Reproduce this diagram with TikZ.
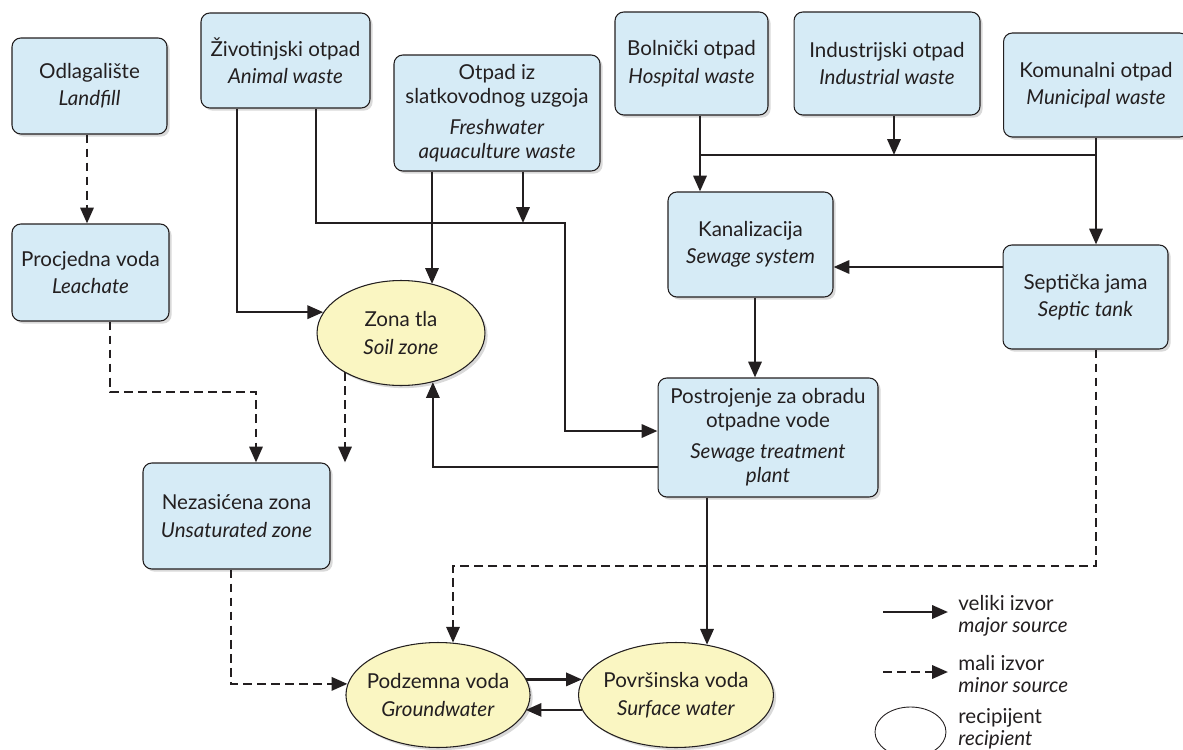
\documentclass[tikz,border=0pt]{standalone}
\usepackage{fontspec}
\setmainfont{Lato}
\usetikzlibrary{arrows.meta,shapes.geometric,shadows,positioning}

\definecolor{plavo}{RGB}{214,235,246}
\definecolor{zuto}{RGB}{250,246,194}
\definecolor{tamno}{RGB}{35,31,32}

\tikzset{
  izvor/.style={draw=tamno, line width=0.6pt, fill=plavo, rounded corners=5pt,
    align=center, text=tamno, font=\fontsize{11.7}{13.6}\selectfont,
    drop shadow={shadow xshift=1.5pt, shadow yshift=-1.5pt, opacity=0.3}},
  recipijent/.style={ellipse, draw=tamno, line width=0.6pt, fill=zuto, inner ysep=0pt, inner xsep=-3.5pt,
    align=center, text=tamno, font=\fontsize{11.7}{13.6}\selectfont,
    drop shadow={shadow xshift=1.5pt, shadow yshift=-1.5pt, opacity=0.3}},
  veliki/.style={draw=tamno, line width=1.5pt, -{Triangle[length=9pt,width=7.5pt]}},
  mali/.style={veliki, dash pattern=on 5pt off 3pt},
  legenda/.style={align=left, text=tamno, font=\fontsize{11.7}{12.6}\selectfont, inner sep=0pt},
}

\begin{document}
\begin{tikzpicture}[x=0.02cm, y=-0.02cm]
\useasboundingbox (0,0) rectangle (1183,750);

% izvori
\node[izvor, minimum width=3.1cm, minimum height=1.92cm] (odl) at (89.5,86) {Odlagalište\\[2pt]\textit{Landfill}};
\node[izvor, minimum width=3.38cm, minimum height=1.9cm] (ziv) at (285.5,60.5) {Životinjski otpad\\[2pt]\textit{Animal waste}};
\node[izvor, minimum width=4.12cm, minimum height=2.32cm] (slat) at (497,113) {Otpad iz\\slatkovodnog uzgoja\\[4pt]\textit{Freshwater}\\\textit{aquaculture waste}};
\node[izvor, minimum width=3.06cm, minimum height=2.06cm] (bol) at (691.5,63.5) {Bolnički otpad\\[2pt]\textit{Hospital waste}};
\node[izvor, minimum width=3.72cm, minimum height=2.06cm] (ind) at (887,63.5) {Industrijski otpad\\[2pt]\textit{Industrial waste}};
\node[izvor, minimum width=3.7cm, minimum height=2.08cm] (kom) at (1096,85) {Komunalni otpad\\[2pt]\textit{Municipal waste}};

% medjukoraci
\node[izvor, minimum width=3.14cm, minimum height=1.94cm] (proc) at (90.5,272.5) {Procjedna voda\\[2pt]\textit{Leachate}};
\node[izvor, minimum width=3.3cm, minimum height=2.1cm] (kan) at (750.5,244.5) {Kanalizacija\\[2pt]\textit{Sewage system}};
\node[izvor, minimum width=3.3cm, minimum height=2.08cm] (sept) at (1085.5,297) {Septička jama\\[2pt]\textit{Septic tank}};
\node[izvor, minimum width=4.4cm, minimum height=2.38cm] (plant) at (768,437.5) {Postrojenje za obradu\\otpadne vode\\[4pt]\textit{Sewage treatment}\\\textit{plant}};
\node[izvor, minimum width=3.74cm, minimum height=2.12cm] (nez) at (236.5,516) {Nezasićena zona\\[2pt]\textit{Unsaturated zone}};

% recipijenti
\node[recipijent, minimum width=3.36cm, minimum height=2.1cm] (tla) at (401,333) {Zona tla\\[2pt]\textit{Soil zone}};
\node[recipijent, minimum width=3.68cm, minimum height=2.1cm] (pod) at (438,695) {Podzemna voda\\[2pt]\textit{Groundwater}};
\node[recipijent, minimum width=3.9cm, minimum height=2.1cm] (pov) at (676,695) {Površinska voda\\[2pt]\textit{Surface water}};

\coordinate (spoj) at (565,223);
\coordinate (sab) at (700,155);
\coordinate (pregib) at (256,392);
\coordinate (skret) at (453,566);
\coordinate (tlaizlaz) at (345,372);

% veliki izvori
\draw[veliki] ([xshift=-0.97cm]ziv.south) |- (tla.165);
\draw[veliki] ([xshift=0.61cm]ziv.south) |- (spoj) |- ([yshift=0.13cm]plant.west);
\draw[veliki] ([xshift=-1.3cm]slat.south) -- ([xshift=-1.3cm]slat.south |- tla.57);
\draw[veliki] ([xshift=0.52cm]slat.south) -- ([xshift=0.52cm]slat.south |- spoj);
\draw[veliki] ([xshift=0.17cm]bol.south) -- ([xshift=0.17cm]bol.south |- kan.north);
\draw[line width=1.5pt, draw=tamno] (sab) -- (kom.south |- sab);
\draw[veliki] ([xshift=0.14cm]ind.south) -- ([xshift=0.14cm]ind.south |- sab);
\draw[veliki] (kom.south) -- (kom.south |- sept.north);
\draw[veliki] ([yshift=0.6cm]sept.west) -- ([yshift=0.6cm]sept.west -| kan.east);
\draw[veliki] ([xshift=0.09cm]kan.south) -- ([xshift=0.09cm]kan.south |- plant.north);
\draw[veliki] ([yshift=-0.59cm]plant.west) -| (tla.-57);
\draw[veliki] ([xshift=-1.22cm]plant.south) -- ([xshift=-1.22cm]plant.south |- pov.58);
\draw[veliki] (pod.10) -- (pod.10 -| pov.171);
\draw[veliki] (pov.-171) -- (pov.-171 -| pod.-11);

% mali izvori
\draw[mali] ([xshift=-0.05cm]odl.south) -- ([xshift=-0.05cm]odl.south |- proc.north);
\draw[mali] ([xshift=0.39cm]proc.south) |- (pregib) -- (pregib |- nez.north);
\draw[mali] (tlaizlaz) -- (tlaizlaz |- nez.north);
\draw[mali] ([xshift=-0.11cm]nez.south) |- (pod.173);
\draw[mali] ([xshift=0.21cm]sept.south) |- (skret) -- (skret |- pod.74);

% legenda
\coordinate (lv) at (883,612);
\coordinate (lvk) at (948,612);
\coordinate (lm) at (883,672);
\coordinate (lmk) at (948,672);
\draw[veliki] (lv) -- (lvk);
\draw[mali] (lm) -- (lmk);
\node[ellipse, draw=tamno, line width=0.5pt, minimum width=1.42cm, minimum height=1.0cm] (lrec) at (910.5,732) {};
\node[legenda, anchor=west] (tvel) at (958,616) {veliki izvor\\\textit{major source}};
\node[legenda, anchor=west] (tmal) at (958,674) {mali izvor\\\textit{minor source}};
\node[legenda, anchor=west] (trec) at (958,729) {recipijent\\\textit{recipient}};
\end{tikzpicture}
\end{document}
